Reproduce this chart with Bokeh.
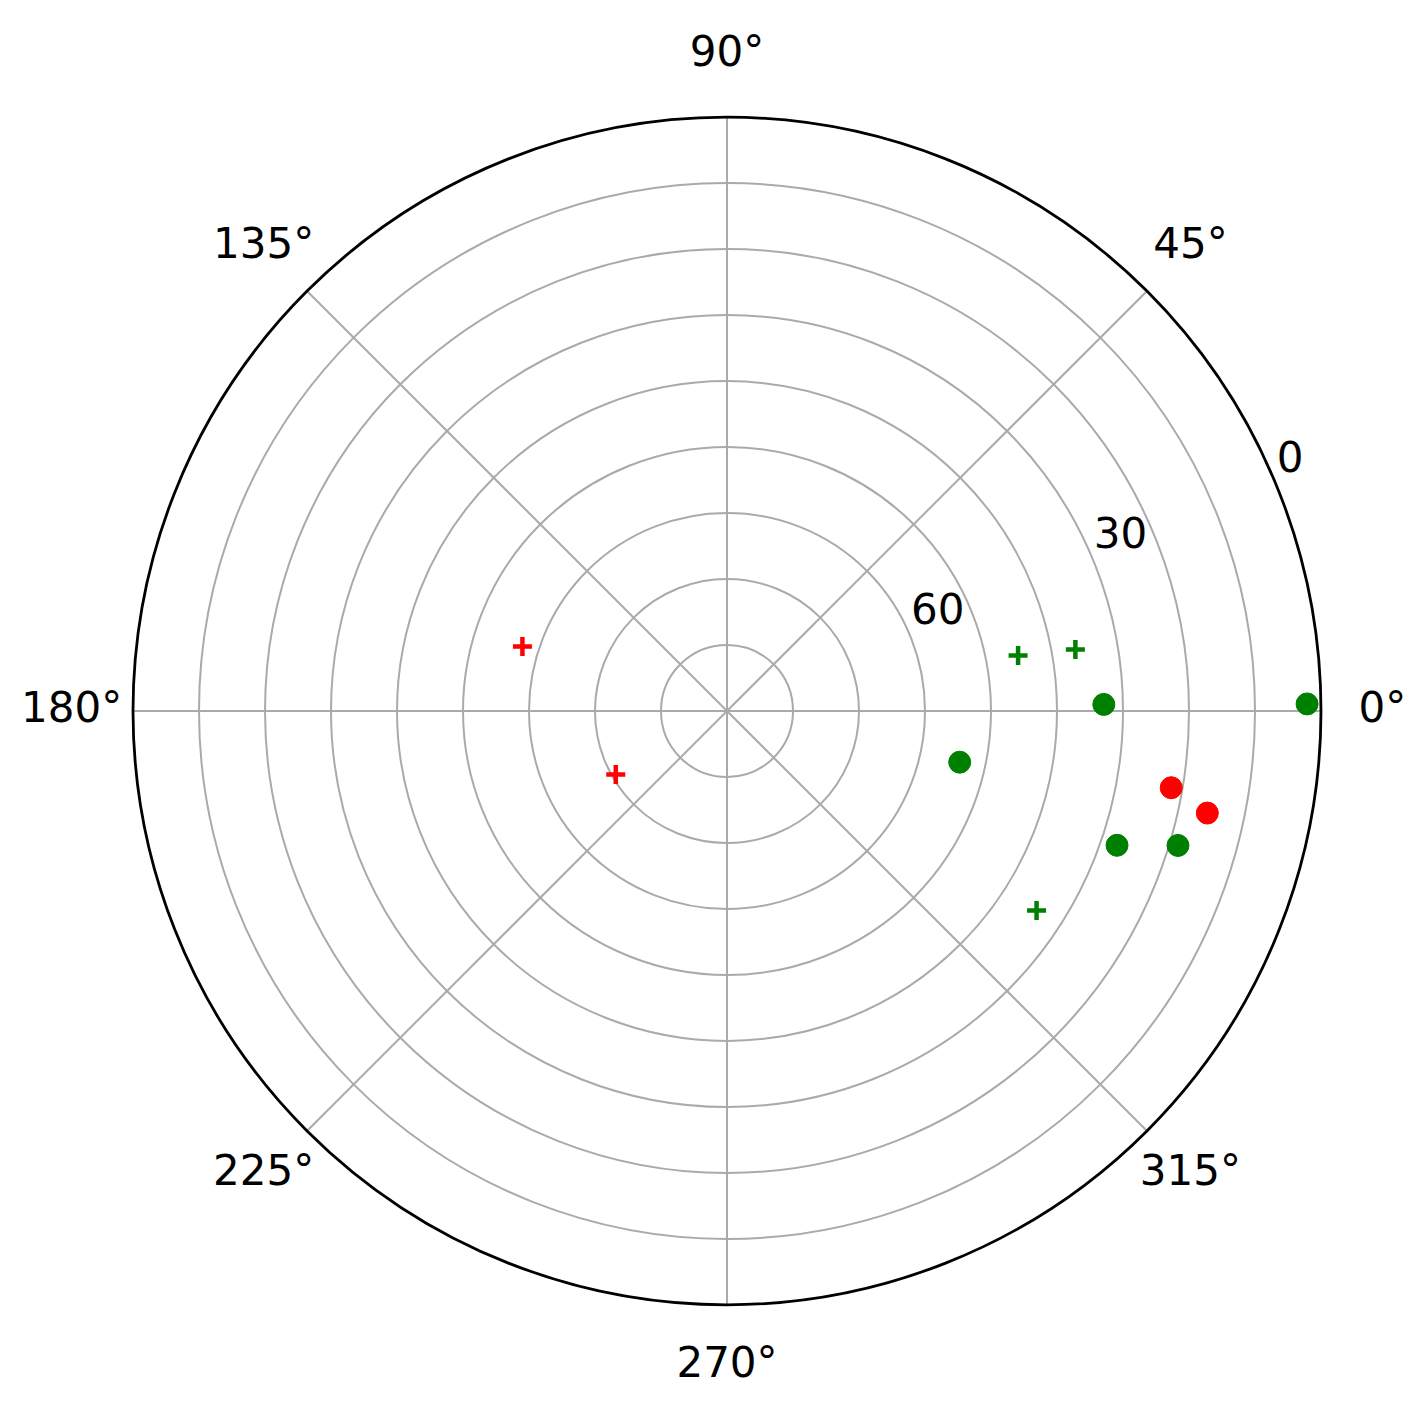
import numpy as np
from bokeh.plotting import figure
from bokeh.models import Range1d
from bokeh.core.properties import value
from bokeh.embed import file_html
from bokeh.resources import INLINE

# ---- data (azimuth in degrees, elevation in degrees) ----
green_dot_az = [0.7, 1.0, 347.6, 341.0, 343.4]
green_dot_el = [2.1, 32.9, 53.9, 27.5, 18.7]
red_dot_az = [350.2, 348.0]
red_dot_el = [21.7, 15.6]
green_plus_az = [10.8, 10.0, 327.2]
green_plus_el = [45.1, 36.4, 34.2]
red_plus_az = [162.5, 209.7]
red_plus_el = [57.5, 70.6]

angle_ticks = [0, 45, 90, 135, 180, 225, 270, 315]
angle_labels = ["0°", "45°", "90°", "135°", "180°", "225°", "270°", "315°"]
ring_values = [10, 20, 30, 40, 50, 60, 70, 80]
rlabel_values = [0, 30, 60]


def to_xy(az, el):
    az = np.radians(np.asarray(az, dtype=float))
    r = 90.0 - np.asarray(el, dtype=float)
    return r * np.cos(az), r * np.sin(az)


W, H = 1410, 1395
CX, CY = 726.5, 710.5   # center in figure pixels
PPU = 6.6               # pixels per unit

p = figure(width=W, height=H, output_backend="svg", toolbar_location=None,
           x_range=Range1d(-CX / PPU, (W - CX) / PPU),
           y_range=Range1d(-(H - CY) / PPU, CY / PPU),
           min_border=0, outline_line_color=None)
p.axis.visible = False
p.grid.visible = False
p.background_fill_color = "white"

# rings
p.circle(x=[0] * len(ring_values), y=[0] * len(ring_values), radius=ring_values,
         fill_color=None, line_color="#aaaaaa", line_width=2)

# spokes
for a in angle_ticks:
    ar = np.radians(a)
    p.line([0, 90 * np.cos(ar)], [0, 90 * np.sin(ar)], line_color="#aaaaaa", line_width=2)

# outer ring
p.circle(x=[0], y=[0], radius=[90], fill_color=None, line_color="black", line_width=2.8)

# angle labels
LR = 99.3
ax_ = [LR * np.cos(np.radians(a)) for a in angle_ticks]
ay_ = [LR * np.sin(np.radians(a)) for a in angle_ticks]
p.text(x=ax_, y=ay_, text=angle_labels, text_align="center", text_baseline="middle",
       y_offset=-4,
       text_font=value("DejaVu Sans"), text_font_size="42px", text_color="black")

# radial labels (elevation)
rl_r = [90 - v for v in rlabel_values]
rx = [r * np.cos(np.radians(22.5)) for r in rl_r]
ry = [r * np.sin(np.radians(22.5)) for r in rl_r]
p.text(x=rx, y=ry, text=[str(v) for v in rlabel_values], text_align="left",
       text_baseline="middle", x_offset=1, y_offset=-27,
       text_font=value("DejaVu Sans"), text_font_size="42px", text_color="black")

# points
gx, gy = to_xy(green_dot_az, green_dot_el)
p.scatter(gx, gy, marker="circle", size=22, fill_color="green", line_color="green")
rx2, ry2 = to_xy(red_dot_az, red_dot_el)
p.scatter(rx2, ry2, marker="circle", size=22, fill_color="red", line_color="red")
gpx, gpy = to_xy(green_plus_az, green_plus_el)
p.scatter(gpx, gpy, marker="cross", size=19, line_color="green", line_width=4.5)
rpx, rpy = to_xy(red_plus_az, red_plus_el)
p.scatter(rpx, rpy, marker="cross", size=19, line_color="red", line_width=4.5)

open("out.html", "w").write(file_html(p, INLINE))
